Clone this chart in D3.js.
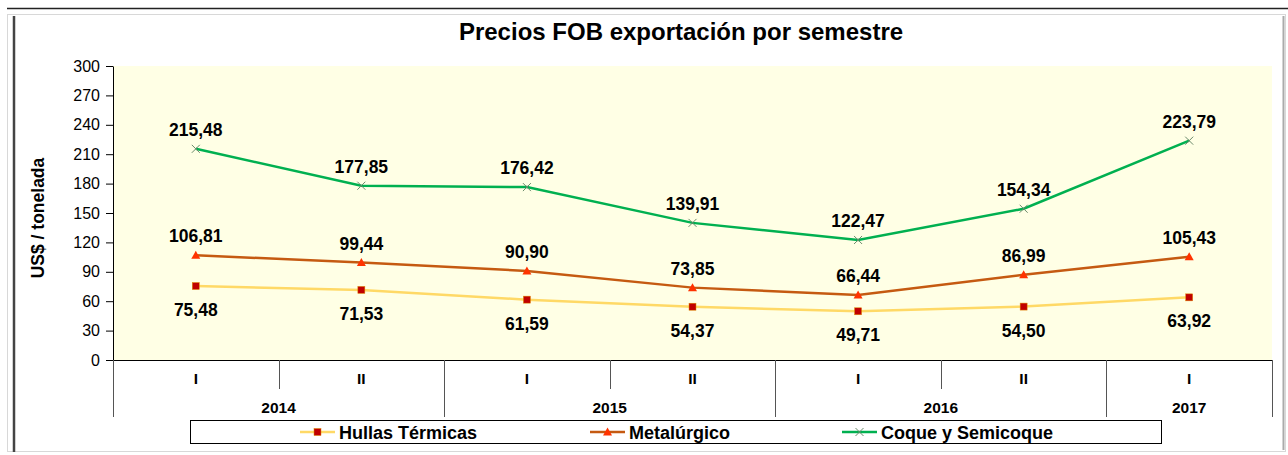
<!DOCTYPE html>
<html><head><meta charset="utf-8">
<script src="https://cdn.jsdelivr.net/npm/d3@7"></script>
<style>body{margin:0;background:#fff}svg{display:block;font-family:"Liberation Sans",Arial,sans-serif}</style>
</head><body><svg id="c" width="1288" height="455"></svg>
<script>
const years = ["2014","2015","2016","2017"];
const semesters = ["I","II","I","II","I","II","I"];
const semesterYear = ["2014","2014","2015","2015","2016","2016","2017"];
const hullas = [75.48,71.53,61.59,54.37,49.71,54.50,63.92];
const metalurgico = [106.81,99.44,90.90,73.85,66.44,86.99,105.43];
const coque = [215.48,177.85,176.42,139.91,122.47,154.34,223.79];
const yTicks = [0,30,60,90,120,150,180,210,240,270,300];
const seriesNames = ["Hullas Térmicas","Metalúrgico","Coque y Semicoque"];

const svg = d3.select("#c");
// frame
svg.append("line").attr("x1",7).attr("x2",1288).attr("y1",8.5).attr("y2",8.5).attr("stroke","#222").attr("stroke-width",1.5);
svg.append("rect").attr("x",7.5).attr("y",14.5).attr("width",1278).attr("height",437).attr("fill","none").attr("stroke","#d8d8d8").attr("stroke-width",1);
svg.append("line").attr("x1",14).attr("x2",14).attr("y1",16).attr("y2",452).attr("stroke","#444").attr("stroke-width",2.5);
svg.append("line").attr("x1",1283.5).attr("x2",1283.5).attr("y1",16).attr("y2",450).attr("stroke","#aaa").attr("stroke-width",2);

const L=113, R=1272, T=66, B=360;
const idx = d3.range(semesters.length);
const x = d3.scaleBand().domain(idx).range([L,R]);
const cx = i => x(i)+x.bandwidth()/2;
const y = d3.scaleLinear().domain([0,300]).range([B,T]);

svg.append("rect").attr("x",L).attr("y",T).attr("width",R-L).attr("height",B-T).attr("fill","#FFFFE5");

svg.append("text").attr("x",681).attr("y",40).attr("text-anchor","middle").attr("font-weight","bold").attr("font-size",24).text("Precios FOB exportación por semestre");

// y axis
const ya = svg.append("g").attr("transform",`translate(${L},0)`).call(d3.axisLeft(y).tickValues(yTicks).tickSize(7).tickPadding(6).tickSizeOuter(0));
ya.selectAll("text").attr("font-size",16).attr("font-family","Liberation Sans, Arial, sans-serif").attr("fill","#000");
ya.select(".domain").attr("stroke","#000");
ya.selectAll(".tick line").attr("stroke","#000");

svg.append("text").attr("transform","translate(44,218) rotate(-90)").attr("text-anchor","middle").attr("font-weight","bold").attr("font-size",17.5).text("US$ / tonelada");

// x axis
svg.append("line").attr("x1",L).attr("x2",R).attr("y1",B+0.5).attr("y2",B+0.5).attr("stroke","#000");
const g = svg.append("g");
idx.forEach(i=>{
  g.append("text").attr("x",cx(i)).attr("y",384).attr("text-anchor","middle").attr("font-weight","bold").attr("font-size",15.5).text(semesters[i]);
});
// separators
for(let i=0;i<=semesters.length;i++){
  const xp = i<semesters.length ? x(i) : R;
  const isYear = i===0 || i===semesters.length || semesterYear[i]!==semesterYear[i-1];
  g.append("line").attr("x1",Math.round(xp)+0.5).attr("x2",Math.round(xp)+0.5).attr("y1",B).attr("y2",isYear?417:389).attr("stroke","#555");
}
years.forEach(yr=>{
  const ii = idx.filter(i=>semesterYear[i]===yr);
  const x0 = x(ii[0]), x1 = x(ii[ii.length-1])+x.bandwidth();
  g.append("text").attr("x",(x0+x1)/2).attr("y",413).attr("text-anchor","middle").attr("font-weight","bold").attr("font-size",15.5).text(yr);
});

const line = d3.line().x((d,i)=>cx(i)).y(d=>y(d));
const cols = {h:"#FFD966", m:"#C55A11", c:"#00B050"};
svg.append("path").datum(hullas).attr("d",line).attr("fill","none").attr("stroke",cols.h).attr("stroke-width",2.5);
svg.append("path").datum(metalurgico).attr("d",line).attr("fill","none").attr("stroke",cols.m).attr("stroke-width",2.5);
svg.append("path").datum(coque).attr("d",line).attr("fill","none").attr("stroke",cols.c).attr("stroke-width",2.5);

function sq(sel,px,py){sel.append("rect").attr("x",px-3.5).attr("y",py-3.5).attr("width",7).attr("height",7).attr("fill","#C00000").attr("stroke","#e08a00").attr("stroke-width",0.5);}
function tri(sel,px,py){sel.append("path").attr("d",`M${px},${py-4.5}L${px+4.5},${py+3.5}L${px-4.5},${py+3.5}Z`).attr("fill","#FF3300");}
function cross(sel,px,py){sel.append("path").attr("d",`M${px-4},${py-4}L${px+4},${py+4}M${px-4},${py+4}L${px+4},${py-4}`).attr("stroke","#6b8a6b").attr("stroke-width",1);}
const fmt = v => d3.format(".2f")(v).replace(".",",");
const mk = svg.append("g");
hullas.forEach((v,i)=>{sq(mk,cx(i),y(v)); mk.append("text").attr("x",cx(i)).attr("y",y(v)+30).attr("text-anchor","middle").attr("font-weight","bold").attr("font-size",17.5).text(fmt(v));});
metalurgico.forEach((v,i)=>{tri(mk,cx(i),y(v)); mk.append("text").attr("x",cx(i)).attr("y",y(v)-13).attr("text-anchor","middle").attr("font-weight","bold").attr("font-size",17.5).text(fmt(v));});
coque.forEach((v,i)=>{cross(mk,cx(i),y(v)); mk.append("text").attr("x",cx(i)).attr("y",y(v)-13).attr("text-anchor","middle").attr("font-weight","bold").attr("font-size",17.5).text(fmt(v));});

// legend
const lg = svg.append("g");
lg.append("rect").attr("x",190.5).attr("y",420.5).attr("width",971).attr("height",23).attr("fill","#fff").attr("stroke","#000");
const lx = [300,590,842];
const lcol = [cols.h,cols.m,cols.c];
const lmark = [sq,tri,cross];
seriesNames.forEach((n,k)=>{
  lg.append("line").attr("x1",lx[k]).attr("x2",lx[k]+35).attr("y1",432).attr("y2",432).attr("stroke",lcol[k]).attr("stroke-width",2.5);
  lmark[k](lg,lx[k]+17.5,432);
  lg.append("text").attr("x",lx[k]+39).attr("y",438.5).attr("font-weight","bold").attr("font-size",18).text(n);
});
</script></body></html>
